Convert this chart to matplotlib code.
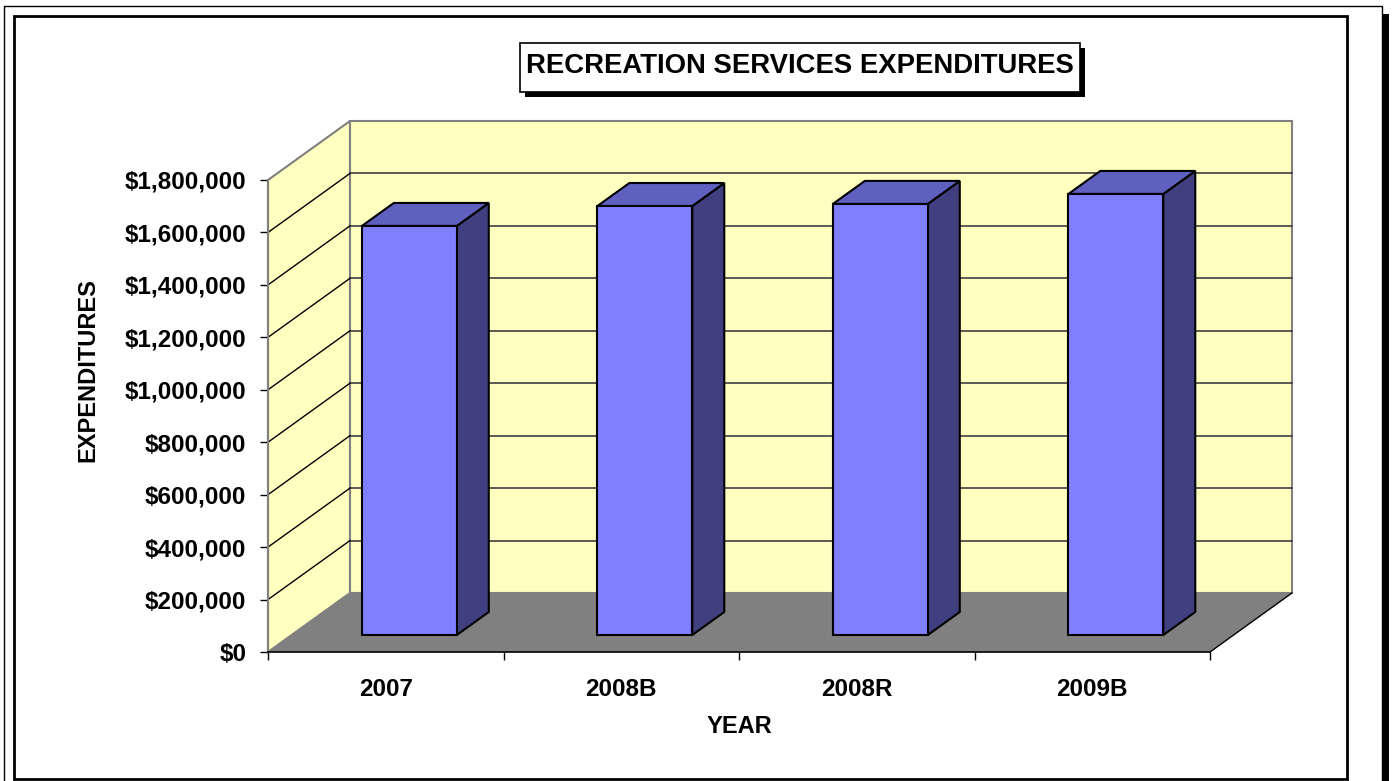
import numpy as np
import matplotlib
matplotlib.use("Agg")
import matplotlib.pyplot as plt
from matplotlib.patches import Polygon, Rectangle

plt.rcParams['font.family'] = ['Liberation Sans', 'DejaVu Sans']
plt.rcParams['font.weight'] = 'bold'

# data
years = ['2007', '2008B', '2008R', '2009B']
expenditures = [1560000, 1636000, 1644000, 1682000]
yticks = np.arange(0, 1800001, 200000)

W, H = 1393, 781
fig = plt.figure(figsize=(W / 100, H / 100), dpi=100)

def px(x0, y0, x1, y1):
    # pixel box (top-left origin) -> figure fraction rect
    return [x0 / W, 1 - y1 / H, (x1 - x0) / W, (y1 - y0) / H]

# frames
fig.patches.append(Rectangle((1383 / W, 0), 6 / W, 1 - 14 / H, transform=fig.transFigure,
                             facecolor='black', edgecolor='none'))
fig.patches.append(Rectangle((4 / W, -0.05), (1382 - 4) / W, 1.05 - 6 / H, transform=fig.transFigure,
                             facecolor='none', edgecolor='black', lw=1))
fig.patches.append(Rectangle((14 / W, 2 / H), (1347 - 14) / W, (779 - 16) / H, transform=fig.transFigure,
                             facecolor='none', edgecolor='black', lw=2))

# title box with shadow
fig.patches.append(Rectangle((525 / W, 1 - 97 / H), 560 / W, 49 / H, transform=fig.transFigure,
                             facecolor='black', edgecolor='none'))
fig.patches.append(Rectangle((520 / W, 1 - 92 / H), 560 / W, 49 / H, transform=fig.transFigure,
                             facecolor='white', edgecolor='black', lw=1.2))
fig.text(800 / W, 1 - 66 / H, 'RECREATION SERVICES EXPENDITURES', ha='center', va='center',
         fontsize=19.8, fontweight='bold')

ax = fig.add_axes(px(268, 180, 1210, 652))
ax.set_xlim(-0.5, len(years) - 0.5)
ax.set_ylim(0, 1800000)
ax.patch.set_visible(False)

DX, DY = 0.348, 225000      # depth offset of the back wall
F0, F1 = 0.288, 0.678       # bar front / back depth fraction
BW = 0.403                  # bar width
x0, x1 = -0.5, len(years) - 0.5
ytop = yticks[-1]

wall = '#FFFFC0'
# back wall
ax.add_patch(Polygon([(x0 + DX, DY), (x1 + DX, DY), (x1 + DX, ytop + DY), (x0 + DX, ytop + DY)],
                     closed=True, facecolor=wall, edgecolor='#808080', lw=1.5, clip_on=False, zorder=1))
# side wall
ax.add_patch(Polygon([(x0, 0), (x0 + DX, DY), (x0 + DX, ytop + DY), (x0, ytop)],
                     closed=True, facecolor=wall, edgecolor='#808080', lw=1.5, clip_on=False, zorder=1))
# floor
ax.add_patch(Polygon([(x0, 0), (x1, 0), (x1 + DX, DY), (x0 + DX, DY)],
                     closed=True, facecolor='#808080', edgecolor='none', clip_on=False, zorder=1.5))
ax.plot([x1, x1 + DX], [0, DY], color='black', lw=1, clip_on=False, zorder=1.6)

# gridlines
for v in yticks[1:-1]:
    ax.plot([x0 + DX, x1 + DX], [v + DY, v + DY], color='#404040', lw=1.2, clip_on=False, zorder=2)
    ax.plot([x0, x0 + DX], [v, v + DY], color='black', lw=1, clip_on=False, zorder=2)

# bars
for i, v in enumerate(expenditures):
    l = i - BW / 2
    r = i + BW / 2
    front = [(l + F0 * DX, F0 * DY), (r + F0 * DX, F0 * DY), (r + F0 * DX, v + F0 * DY), (l + F0 * DX, v + F0 * DY)]
    side = [(r + F0 * DX, F0 * DY), (r + F1 * DX, F1 * DY), (r + F1 * DX, v + F1 * DY), (r + F0 * DX, v + F0 * DY)]
    top = [(l + F0 * DX, v + F0 * DY), (r + F0 * DX, v + F0 * DY), (r + F1 * DX, v + F1 * DY), (l + F1 * DX, v + F1 * DY)]
    for poly, c in [(side, '#404080'), (top, '#6060C0'), (front, '#8080FF')]:
        ax.add_patch(Polygon(poly, closed=True, facecolor=c, edgecolor='black', lw=1.5,
                             joinstyle='miter', clip_on=False, zorder=3 + i))

# axes
for s in ['top', 'right']:
    ax.spines[s].set_visible(False)
ax.spines['left'].set_color('#808080')
ax.spines['left'].set_linewidth(1.5)
ax.spines['bottom'].set_color('black')
ax.spines['bottom'].set_linewidth(1.2)
ax.spines['left'].set_zorder(2.5)
ax.spines['bottom'].set_zorder(2.5)

ax.set_yticks(yticks)
ax.set_yticklabels(['${:,.0f}'.format(v) for v in yticks])
ax.tick_params(axis='y', length=6, width=1, color='black', pad=9.5, labelsize=17.5)

ax.set_xticks(range(len(years)))
ax.set_xticklabels(years)
ax.set_xticks(np.arange(-0.5, len(years)), minor=True)
ax.tick_params(axis='x', which='major', length=0, pad=19, labelsize=17.5)
ax.tick_params(axis='x', which='minor', length=6, width=1, color='black')

ax.set_xlabel('YEAR', fontsize=17, fontweight='bold')
ax.xaxis.set_label_coords(0.5, -0.158)
ax.xaxis.label.set_va('center')
ax.set_ylabel('EXPENDITURES', fontsize=17, fontweight='bold')
ax.yaxis.set_label_coords(-0.191, 0.597)
ax.yaxis.label.set_va('center')

fig.savefig('out.png', dpi=100)
